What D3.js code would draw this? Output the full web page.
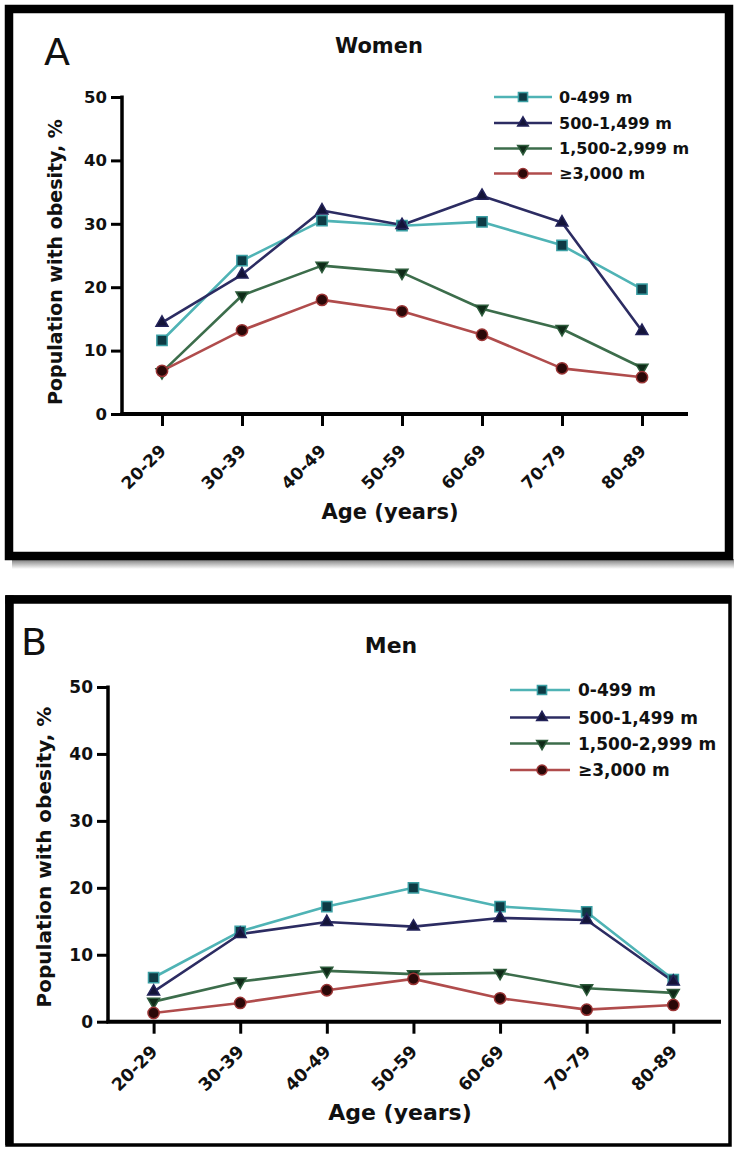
<!DOCTYPE html>
<html><head><meta charset="utf-8">
<script src="https://cdn.jsdelivr.net/npm/d3@7"></script>
<style>
html,body{margin:0;padding:0;background:#fff;}
svg{display:block;}
text{font-family:"DejaVu Sans",sans-serif;fill:#111;}
</style></head>
<body>
<svg id="chart" width="734" height="1150"></svg>
<script>
// ---- data ----
const ages = ["20-29","30-39","40-49","50-59","60-69","70-79","80-89"];
const seriesNames = ["0-499 m","500-1,499 m","1,500-2,999 m","\u22653,000 m"];
const yTicks = [0,10,20,30,40,50];

const women_0_499     = [11.6, 24.2, 30.5, 29.7, 30.3, 26.6, 19.7];
const women_500_1499  = [14.4, 22.0, 32.1, 29.8, 34.4, 30.2, 13.1];
const women_1500_2999 = [6.6, 18.7, 23.4, 22.3, 16.6, 13.4, 7.3];
const women_3000plus  = [6.8, 13.2, 18.0, 16.2, 12.5, 7.2, 5.8];

const men_0_499     = [6.6, 13.5, 17.2, 20.0, 17.2, 16.4, 6.3];
const men_500_1499  = [4.5, 13.1, 14.9, 14.2, 15.5, 15.2, 6.0];
const men_1500_2999 = [3.0, 6.0, 7.6, 7.1, 7.3, 5.0, 4.3];
const men_3000plus  = [1.3, 2.8, 4.7, 6.4, 3.5, 1.8, 2.5];

// ---- styles ----
const styles = [
  {line:"#4fb3b5", fill:"#0e3a44", stroke:"#3a9ea3", sym:d3.symbolSquare, size:105, rot:0},
  {line:"#2c2c62", fill:"#141438", stroke:"#23235a", sym:d3.symbolTriangle, size:62, rot:0},
  {line:"#3c6d4b", fill:"#0f2a18", stroke:"#2c5a3a", sym:d3.symbolTriangle, size:62, rot:180},
  {line:"#b04c4c", fill:"#2a0808", stroke:"#9a3535", sym:d3.symbolCircle, size:100, rot:0}
];

const svg = d3.select("#chart");

// shadow under panel A
const defs = svg.append("defs");
const grad = defs.append("linearGradient").attr("id","sh").attr("x1",0).attr("y1",0).attr("x2",0).attr("y2",1);
grad.append("stop").attr("offset","0%").attr("stop-color","#777");
grad.append("stop").attr("offset","100%").attr("stop-color","#fff");
svg.append("rect").attr("x",12).attr("y",559).attr("width",722).attr("height",10).attr("fill","url(#sh)");

function panel(cfg){
  const g = svg.append("g");
  // frame
  if (cfg.frameThin){
    g.append("rect").attr("x",cfg.frame[0]).attr("y",cfg.frame[1]).attr("width",cfg.frame[2]).attr("height",cfg.frame[3])
      .attr("fill","none").attr("stroke","#000").attr("stroke-width",3.5);
    g.append("line").attr("x1",cfg.frame[0]-1.5).attr("x2",cfg.frame[0]+cfg.frame[2]).attr("y1",cfg.frame[1]+2.5).attr("y2",cfg.frame[1]+2.5).attr("stroke","#000").attr("stroke-width",8.5);
    g.append("line").attr("x1",cfg.frame[0]+2.5).attr("x2",cfg.frame[0]+2.5).attr("y1",cfg.frame[1]-1.5).attr("y2",cfg.frame[1]+cfg.frame[3]).attr("stroke","#000").attr("stroke-width",8.5);
  } else {
    g.append("rect").attr("x",cfg.frame[0]).attr("y",cfg.frame[1]).attr("width",cfg.frame[2]).attr("height",cfg.frame[3])
      .attr("fill","none").attr("stroke","#000").attr("stroke-width",8.5);
  }
  // letter and title
  g.append("text").attr("x",cfg.letter[0]).attr("y",cfg.letter[1]).attr("font-size",38).text(cfg.letterText);
  g.append("text").attr("x",cfg.title[0]).attr("y",cfg.title[1]).attr("font-size",cfg.titleSize).attr("font-weight","bold")
    .attr("text-anchor","middle").text(cfg.titleText);

  const x = d3.scalePoint().domain(ages).range([cfg.x0, cfg.x1]);
  const y = d3.scaleLinear().domain([0,50]).range([cfg.yBottom, cfg.yTop]);

  // y axis
  const ya = g.append("g").attr("transform",`translate(${cfg.axisX},0)`)
    .call(d3.axisLeft(y).tickValues(yTicks).tickSize(11).tickPadding(4).tickFormat(d3.format("d")));
  ya.select(".domain").remove();
  ya.selectAll(".tick line").attr("stroke","#000").attr("stroke-width",3);
  ya.selectAll(".tick text").attr("font-size",cfg.tickSize).attr("font-weight","bold")
    .attr("font-family","DejaVu Sans, sans-serif").attr("fill","#111");
  g.append("line").attr("x1",cfg.axisX).attr("x2",cfg.axisX).attr("y1",cfg.yTop-1.5).attr("y2",cfg.yBottom+1.5)
    .attr("stroke","#000").attr("stroke-width",3.5);

  // x axis
  const xa = g.append("g").attr("transform",`translate(0,${cfg.yBottom})`)
    .call(d3.axisBottom(x).tickSize(12).tickFormat(""));
  xa.select(".domain").remove();
  xa.selectAll(".tick line").attr("stroke","#000").attr("stroke-width",3);
  g.append("line").attr("x1",cfg.axisX-1.5).attr("x2",cfg.xEnd).attr("y1",cfg.yBottom).attr("y2",cfg.yBottom)
    .attr("stroke","#000").attr("stroke-width",4);
  g.selectAll(".xl").data(ages).enter().append("text")
    .attr("transform",d=>`translate(${x(d)+cfg.xlDx},${cfg.yBottom+cfg.xlDy}) rotate(-45)`)
    .attr("text-anchor","end").attr("font-size",cfg.xTickSize).attr("font-weight","bold").text(d=>d);

  // axis titles
  g.append("text").attr("x",cfg.xTitle[0]).attr("y",cfg.xTitle[1]).attr("text-anchor","middle")
    .attr("font-size",cfg.xTitleSize).attr("font-weight","bold").text("Age (years)");
  g.append("text").attr("transform",`translate(${cfg.yTitle[0]},${cfg.yTitle[1]}) rotate(-90)`).attr("text-anchor","middle")
    .attr("font-size",cfg.yTitleSize).attr("font-weight","bold").text("Population with obesity, %");

  // series
  const line = d3.line().x((d,i)=>x(ages[i])).y(d=>y(d));
  cfg.series.forEach((vals,si)=>{
    const st = styles[si];
    g.append("path").datum(vals).attr("d",line).attr("fill","none").attr("stroke",st.line)
      .attr("stroke-width",2.6).attr("stroke-linejoin","round");
  });
  cfg.series.forEach((vals,si)=>{
    const st = styles[si];
    g.selectAll(null).data(vals).enter().append("path")
      .attr("d",d3.symbol().type(st.sym).size(st.size))
      .attr("transform",(d,i)=>`translate(${x(ages[i])},${y(d)}) rotate(${st.rot})`)
      .attr("fill",st.fill).attr("stroke",st.stroke).attr("stroke-width",1.5);
  });

  // legend
  seriesNames.forEach((name,si)=>{
    const st = styles[si];
    const ly = cfg.legendY[si];
    g.append("line").attr("x1",cfg.legendX[0]).attr("x2",cfg.legendX[2]).attr("y1",ly).attr("y2",ly)
      .attr("stroke",st.line).attr("stroke-width",2.6);
    g.append("path").attr("d",d3.symbol().type(st.sym).size(st.size*0.8))
      .attr("transform",`translate(${cfg.legendX[1]},${ly}) rotate(${st.rot})`)
      .attr("fill",st.fill).attr("stroke",st.stroke).attr("stroke-width",1.5);
    g.append("text").attr("x",cfg.legendX[3]).attr("y",ly).attr("dy","0.36em")
      .attr("font-size",cfg.legendSize).attr("font-weight","bold").text(name);
  });
}

panel({
  frame:[9,9,720,547], frameThin:false,
  letter:[44,65], letterText:"A",
  title:[379,53], titleText:"Women", titleSize:21,
  x0:162, x1:642, xEnd:688, axisX:122, yTop:97, yBottom:414,
  tickSize:16.5, xTickSize:17, xlDy:38, xlDx:5,
  xTitle:[390,519], xTitleSize:21,
  yTitle:[62,262], yTitleSize:19,
  legendX:[494,523,552,559], legendY:[97,123,148.5,173.5], legendSize:16,
  series:[women_0_499, women_500_1499, women_1500_2999, women_3000plus]
});

panel({
  frame:[7,597,723,548], frameThin:true,
  letter:[21,655], letterText:"B",
  title:[391,653], titleText:"Men", titleSize:22,
  x0:153.6, x1:673.3, xEnd:721, axisX:108, yTop:687, yBottom:1021.7,
  tickSize:17, xTickSize:17.5, xlDy:31, xlDx:5,
  xTitle:[400,1120], xTitleSize:22,
  yTitle:[51,857], yTitleSize:20,
  legendX:[510,542,570,578], legendY:[690,717.5,743.5,770], legendSize:17,
  series:[men_0_499, men_500_1499, men_1500_2999, men_3000plus]
});
</script>
</body></html>
